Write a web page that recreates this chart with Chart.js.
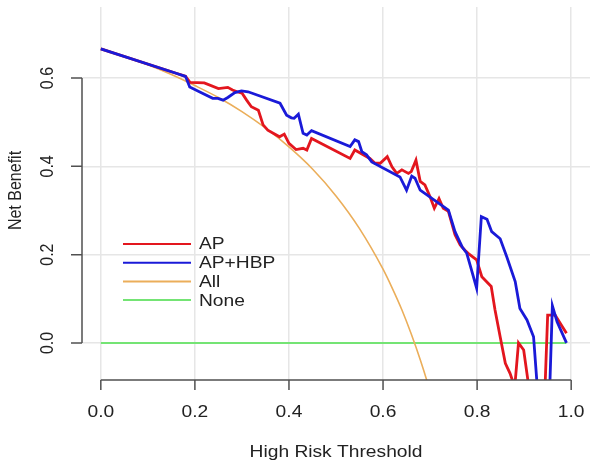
<!DOCTYPE html>
<html>
<head>
<meta charset="utf-8">
<script src="https://cdn.jsdelivr.net/npm/chart.js@4/dist/chart.umd.min.js"></script>
<style>
  html, body { margin: 0; padding: 0; background: #ffffff; }
  #wrap { width: 597px; height: 467px; }
</style>
</head>
<body>
<div id="wrap"><canvas id="c" width="597" height="467"></canvas></div>
<script>
// ---- data ----
const xTicks = [0.0, 0.2, 0.4, 0.6, 0.8, 1.0];
const yTicks = [0.0, 0.2, 0.4, 0.6];
const xTickLabels = ["0.0", "0.2", "0.4", "0.6", "0.8", "1.0"];
const yTickLabels = ["0.0", "0.2", "0.4", "0.6"];
const xTitle = "High Risk Threshold";
const yTitle = "Net Benefit";
const seriesNames = ["AP", "AP+HBP", "All", "None"];

const apX = [0.00, 0.16, 0.18, 0.19, 0.22, 0.25, 0.27, 0.28, 0.29, 0.30, 0.31, 0.32, 0.335, 0.345, 0.355, 0.38, 0.39, 0.40, 0.415, 0.43, 0.438, 0.448, 0.53, 0.54, 0.572, 0.583, 0.594, 0.609, 0.619, 0.629, 0.640, 0.654, 0.660, 0.670, 0.679, 0.689, 0.700, 0.709, 0.719, 0.728, 0.739, 0.753, 0.764, 0.774, 0.781, 0.799, 0.810, 0.830, 0.838, 0.849, 0.860, 0.870, 0.880, 0.888, 0.899, 0.910, 0.920, 0.930, 0.940, 0.950, 0.966, 0.977, 0.990];
const apY = [0.666, 0.611, 0.604, 0.590, 0.589, 0.576, 0.579, 0.573, 0.569, 0.566, 0.550, 0.535, 0.527, 0.494, 0.482, 0.467, 0.473, 0.452, 0.438, 0.441, 0.437, 0.463, 0.418, 0.437, 0.418, 0.407, 0.407, 0.422, 0.399, 0.384, 0.392, 0.384, 0.388, 0.414, 0.366, 0.358, 0.331, 0.305, 0.327, 0.305, 0.298, 0.245, 0.222, 0.210, 0.203, 0.188, 0.150, 0.128, 0.075, 0.014, -0.046, -0.069, -0.100, 0.000, -0.016, -0.100, -0.200, -0.200, -0.230, 0.063, 0.063, 0.044, 0.022];

const hbpX = [0.00, 0.16, 0.18, 0.189, 0.217, 0.238, 0.249, 0.260, 0.270, 0.285, 0.299, 0.313, 0.381, 0.395, 0.405, 0.411, 0.420, 0.430, 0.438, 0.448, 0.530, 0.540, 0.548, 0.555, 0.565, 0.576, 0.636, 0.650, 0.661, 0.668, 0.679, 0.739, 0.753, 0.768, 0.778, 0.785, 0.799, 0.809, 0.821, 0.831, 0.849, 0.863, 0.881, 0.891, 0.906, 0.920, 0.930, 0.940, 0.950, 0.960, 0.970, 0.990];
const hbpY = [0.666, 0.611, 0.604, 0.580, 0.565, 0.554, 0.554, 0.550, 0.556, 0.567, 0.571, 0.569, 0.543, 0.516, 0.510, 0.509, 0.518, 0.475, 0.471, 0.481, 0.445, 0.460, 0.456, 0.433, 0.426, 0.410, 0.376, 0.346, 0.378, 0.373, 0.346, 0.301, 0.252, 0.218, 0.203, 0.177, 0.124, 0.286, 0.280, 0.252, 0.236, 0.195, 0.139, 0.078, 0.052, 0.014, -0.130, -0.200, -0.250, 0.084, 0.048, 0.000];

const allX = [0.00, 0.05, 0.10, 0.15, 0.20, 0.25, 0.30, 0.35, 0.40, 0.45, 0.50, 0.55, 0.60, 0.62, 0.64, 0.66, 0.68, 0.70, 0.72];
const allY = [0.667, 0.649, 0.630, 0.608, 0.583, 0.556, 0.524, 0.487, 0.444, 0.394, 0.333, 0.259, 0.167, 0.123, 0.075, 0.020, -0.041, -0.110, -0.190];

const noneX = [0.00, 0.99];
const noneY = [0.00, 0.00];

const colors = { ap: "#E3161E", hbp: "#1A1AD8", all: "#EBAE5A", none: "#74E474" };

function pts(xs, ys) { return xs.map((x, i) => ({ x: x, y: ys[i] })); }

// ---- R-style axes, labels, legend ----
const SX = 1.2;      // horizontal stretch of the reference text
const FONT = '16px "Liberation Sans", Arial, sans-serif';
const rStyle = {
  id: 'rStyle',
  afterDraw(chart) {
    const ctx = chart.ctx, xs = chart.scales.x, ys = chart.scales.y, a = chart.chartArea;
    ctx.save();
    ctx.strokeStyle = '#505050';
    ctx.lineWidth = 1.5;
    ctx.lineCap = 'butt';
    // x axis
    const xb = a.bottom;
    ctx.beginPath();
    ctx.moveTo(xs.getPixelForValue(xTicks[0]), xb);
    ctx.lineTo(xs.getPixelForValue(xTicks[xTicks.length - 1]), xb);
    xTicks.forEach(v => { const p = xs.getPixelForValue(v); ctx.moveTo(p, xb); ctx.lineTo(p, xb + 10); });
    ctx.stroke();
    // y axis
    const yl = a.left;
    ctx.beginPath();
    ctx.moveTo(yl, ys.getPixelForValue(yTicks[0]));
    ctx.lineTo(yl, ys.getPixelForValue(yTicks[yTicks.length - 1]));
    yTicks.forEach(v => { const p = ys.getPixelForValue(v); ctx.moveTo(yl, p); ctx.lineTo(yl - 11, p); });
    ctx.stroke();

    ctx.fillStyle = '#222222';
    ctx.font = FONT;
    // x tick labels
    ctx.textAlign = 'center';
    ctx.textBaseline = 'alphabetic';
    xTicks.forEach((v, i) => {
      ctx.save();
      ctx.translate(xs.getPixelForValue(v), xb + 37);
      ctx.scale(SX, 1);
      ctx.fillText(xTickLabels[i], 0, 0);
      ctx.restore();
    });
    // x title
    ctx.save();
    ctx.translate((xs.getPixelForValue(0) + xs.getPixelForValue(1)) / 2, xb + 77);
    ctx.scale(SX, 1);
    ctx.fillText(xTitle, 0, 0);
    ctx.restore();
    // y tick labels (rotated)
    yTicks.forEach((v, i) => {
      ctx.save();
      ctx.translate(yl - 29, ys.getPixelForValue(v));
      ctx.scale(SX, 1);
      ctx.rotate(-Math.PI / 2);
      ctx.fillText(yTickLabels[i], 0, 0);
      ctx.restore();
    });
    // y title
    ctx.save();
    ctx.translate(21, (a.top + a.bottom) / 2 - 3);
    ctx.scale(SX, 1);
    ctx.rotate(-Math.PI / 2);
    ctx.fillText(yTitle, 0, 0);
    ctx.restore();

    // legend
    const ds = chart.data.datasets;
    const legX0 = 123, legX1 = 191, legTextX = 199, legY0 = 244, legStep = 18.7;
    ds.forEach((d, i) => {
      const y = legY0 + i * legStep;
      ctx.strokeStyle = d.borderColor;
      ctx.lineWidth = 2;
      ctx.beginPath();
      ctx.moveTo(legX0, y); ctx.lineTo(legX1, y);
      ctx.stroke();
      ctx.save();
      ctx.translate(legTextX, y);
      ctx.scale(SX, 1);
      ctx.textAlign = 'left';
      ctx.textBaseline = 'middle';
      ctx.fillStyle = '#222222';
      ctx.fillText(d.label, 0, 1);
      ctx.restore();
    });
    ctx.restore();
  }
};

new Chart(document.getElementById('c'), {
  type: 'line',
  data: {
    datasets: [
      { label: seriesNames[0], data: pts(apX, apY), borderColor: colors.ap, backgroundColor: colors.ap, borderWidth: 2.8, pointRadius: 0, tension: 0, order: 2, clip: 0 },
      { label: seriesNames[1], data: pts(hbpX, hbpY), borderColor: colors.hbp, backgroundColor: colors.hbp, borderWidth: 2.8, pointRadius: 0, tension: 0, order: 1, clip: 0 },
      { label: seriesNames[2], data: pts(allX, allY), borderColor: colors.all, backgroundColor: colors.all, borderWidth: 1.6, pointRadius: 0, cubicInterpolationMode: 'monotone', order: 3, clip: 0 },
      { label: seriesNames[3], data: pts(noneX, noneY), borderColor: colors.none, backgroundColor: colors.none, borderWidth: 2, pointRadius: 0, tension: 0, order: 4, clip: 0 }
    ]
  },
  options: {
    responsive: false,
    animation: false,
    devicePixelRatio: 1,
    layout: { padding: { left: 82, right: 7, top: 7, bottom: 87 } },
    plugins: { legend: { display: false }, tooltip: { enabled: false }, title: { display: false } },
    scales: {
      x: {
        type: 'linear', min: -0.04, max: 1.04,
        afterBuildTicks: s => { s.ticks = xTicks.map(v => ({ value: v })); },
        ticks: { display: false },
        grid: { color: '#E6E6E6', lineWidth: 1.5, drawTicks: false },
        border: { display: false },
        title: { display: false }
      },
      y: {
        type: 'linear', min: -0.084, max: 0.761,
        afterBuildTicks: s => { s.ticks = yTicks.map(v => ({ value: v })); },
        ticks: { display: false },
        grid: { color: '#E6E6E6', lineWidth: 1.5, drawTicks: false },
        border: { display: false },
        title: { display: false }
      }
    }
  },
  plugins: [rStyle]
});
</script>
</body>
</html>
